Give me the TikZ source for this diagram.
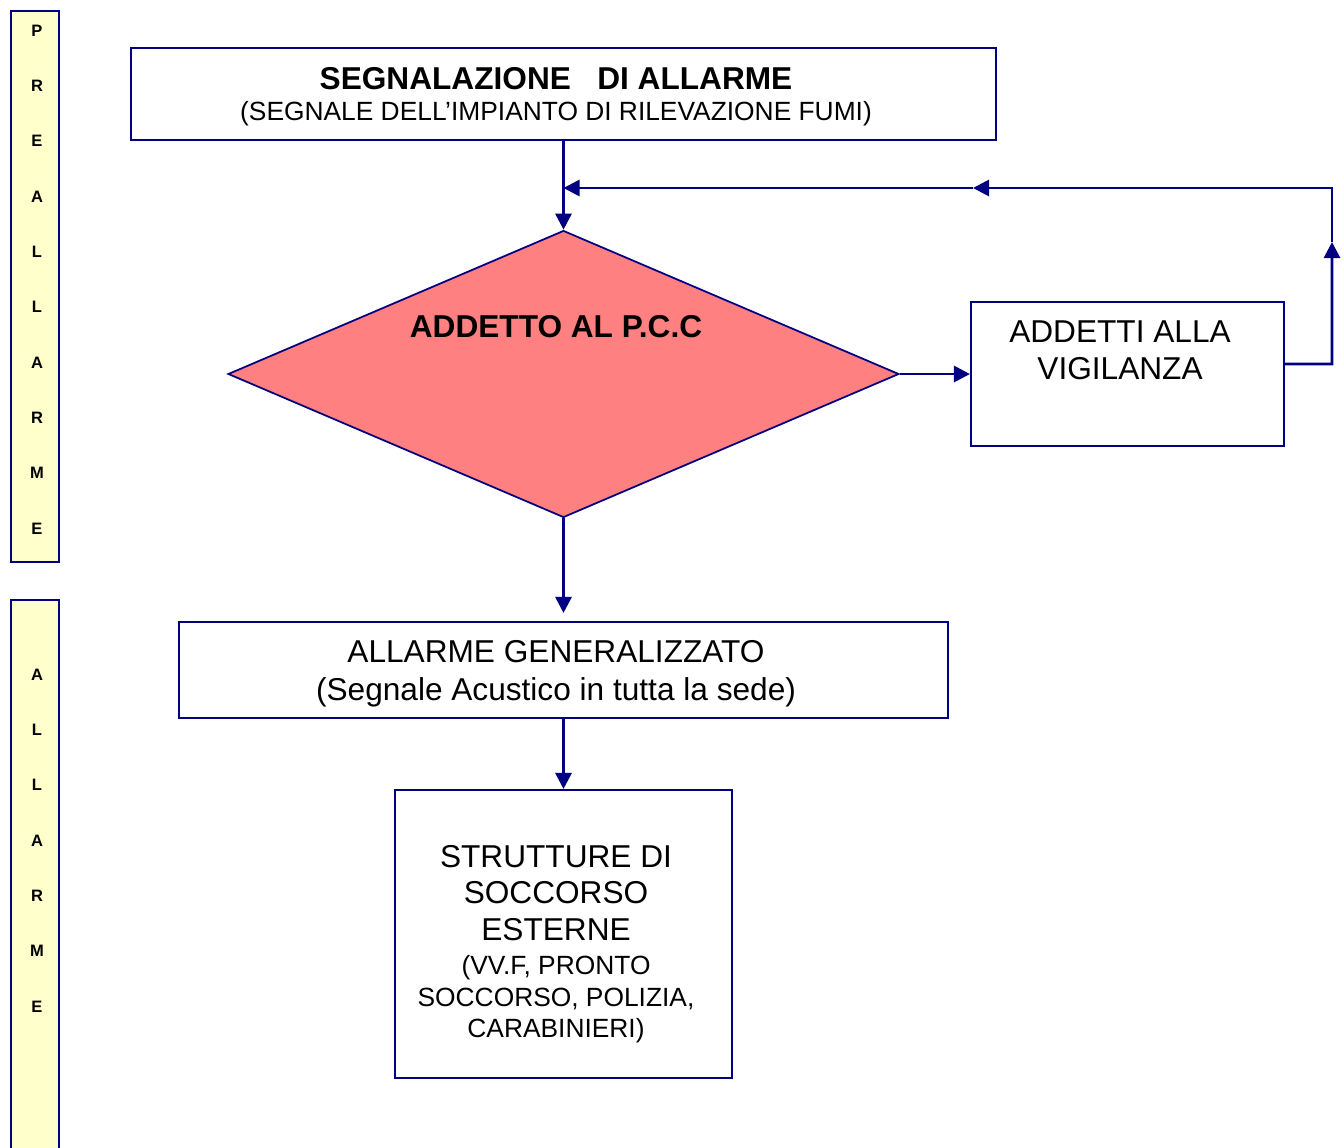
\documentclass[tikz,border=0pt]{standalone}
\usepackage{fontspec}
\setmainfont{Liberation Sans}
\usetikzlibrary{shapes.geometric,arrows.meta}

\begin{document}
\begin{tikzpicture}[x=0.02cm, y=-0.02cm,
		box/.style={draw=flowBlue, line width=1.2pt, fill=white, inner sep=0pt},
		flow/.style={draw=flowBlue, line width=1.6pt, -{Triangle[length=0.32cm,width=0.32cm]}},
		bar/.style={draw=flowBlue, line width=1.3pt, fill=barYellow, minimum width=0.96cm, inner sep=0pt},
		barletters/.style={font=\fontsize{9.4}{31.5}\selectfont\bfseries, align=center},
		bigtext/.style={font=\fontsize{18}{21}\selectfont, align=center}]
		
		% Define colors
		
		\definecolor{flowBlue}{RGB}{0,0,128}
		
		\definecolor{barYellow}{RGB}{255,255,204}
		
		\definecolor{pccRed}{RGB}{255,128,128}
		
		% Fix the page size
		
		\useasboundingbox (0,0) rectangle (1343,1147);
		
		% Side bars with the phase names
		
		\node[bar, minimum height=11.02cm] (prebar) at (35,286.5) {};
		
		\node[barletters] (pretext) at (37,279.5) {P\\R\\E\\A\\L\\L\\A\\R\\M\\E};
		
		\node[bar, minimum height=11.2cm] (allbar) at (35,880) {};
		
		\node[barletters] (alltext) at (37,840.5) {A\\L\\L\\A\\R\\M\\E};
		
		% Boxes of the flow
		
		\node[box, minimum width=17.3cm, minimum height=1.84cm] (signal) at (563.5,94) {};
		
		\node[draw=flowBlue, line width=1pt, fill=pccRed, diamond, inner sep=0pt, minimum width=13.42cm, minimum height=5.74cm] (pcc) at (563.5,374) {};
		
		\node[box, minimum width=6.26cm, minimum height=2.88cm] (vig) at (1127.5,374) {};
		
		\node[box, minimum width=15.38cm, minimum height=1.92cm] (general) at (563.5,670) {};
		
		\node[box, minimum width=6.74cm, minimum height=5.76cm] (rescue) at (563.5,934) {};
		
		% Texts of the boxes
		
		\node[align=center, font=\fontsize{18}{18.7}\selectfont\bfseries] (signaltext) at (556,97) {SEGNALAZIONE\ \ \ DI ALLARME\\[-1.1pt]{\mdseries\fontsize{15}{18.7}\selectfont (SEGNALE DELL’IMPIANTO DI RILEVAZIONE FUMI)}};
		
		\node[font=\fontsize{18}{21}\selectfont\bfseries] (pcctext) at (556,327) {ADDETTO AL P.C.C};
		
		\node[bigtext] (vigtext) at (1120,350) {ADDETTI ALLA\\VIGILANZA};
		
		\node[bigtext, font=\fontsize{18}{21.5}\selectfont] (generaltext) at (556,674) {ALLARME GENERALIZZATO\\(Segnale Acustico in tutta la sede)};
		
		\node[bigtext] (rescuetext) at (556,944) {STRUTTURE DI\\SOCCORSO\\ESTERNE\\[-1.7pt]{\fontsize{15}{17.9}\selectfont (VV.F, PRONTO}\\[-3.1pt]{\fontsize{15}{17.9}\selectfont SOCCORSO, POLIZIA,}\\[-3.1pt]{\fontsize{15}{17.9}\selectfont CARABINIERI)}};
		
		% Connectors
		
		\draw[flow] (signal.south -| pcc.north) -- (pcc.north);
		
		\draw[flow] (pcc.east) -- (vig.west);
		
		\draw[flow, shorten >=0.16cm] (pcc.south) -- (general.north);
		
		\draw[flow] (general.south) -- (rescue.north);
		
		% Return path from the vigilance box
		
		\coordinate (backstart) at ([yshift=0.2cm]vig.east);
		
		\coordinate (backright) at (1332,364);
		
		\coordinate (backup) at (1332,242);
		
		\coordinate (backcorner) at (1332,188);
		
		\coordinate (backmid) at (973,188);
		
		\coordinate (backend) at (pcc.north |- backmid);
		
		\draw[flow] (backstart) -- (backright) -- (backup);
		
		\draw[flow] (backup) -- (backcorner) -- (backmid);
		
		\draw[flow] (backmid) -- (backend);
		
	\end{tikzpicture}
\end{document}
